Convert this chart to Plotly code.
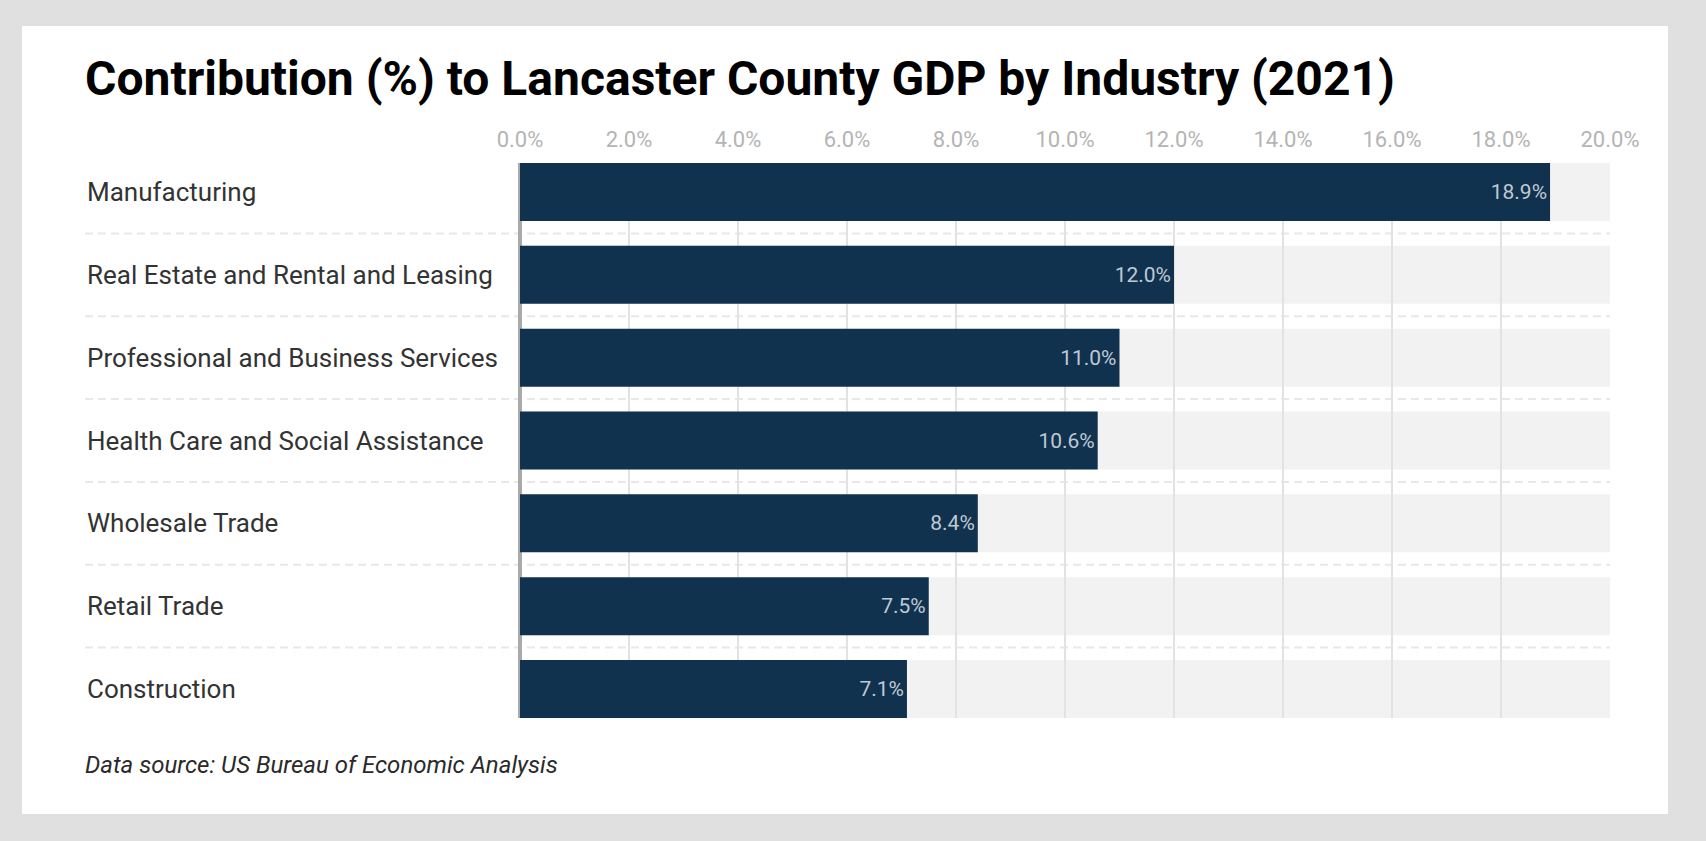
import plotly.graph_objects as go

categories = [
    "Manufacturing",
    "Real Estate and Rental and Leasing",
    "Professional and Business Services",
    "Health Care and Social Assistance",
    "Wholesale Trade",
    "Retail Trade",
    "Construction",
]
values = [18.9, 12.0, 11.0, 10.6, 8.4, 7.5, 7.1]
x_max = 20.0
tick_vals = [0, 2, 4, 6, 8, 10, 12, 14, 16, 18, 20]
tick_text = [f"{v:.1f}%" for v in tick_vals]

W, H = 1706, 841
BAR_W = 0.7
px = lambda v: v / W
py = lambda v: 1 - v / H

plot_l, plot_r = 520, 1610
plot_t, plot_b = 163, 718

fig = go.Figure()
fig.add_trace(go.Bar(
    x=values, y=list(range(len(categories))), orientation="h",
    width=BAR_W,
    marker=dict(color="#11324f", line=dict(width=0)),
    texttemplate="%{x:.1f}%", textposition="inside", insidetextanchor="end",
    textfont=dict(family="Roboto", size=21, color="#bfc9d3"),
    hoverinfo="skip",
))

shapes = [
    dict(type="rect", xref="paper", yref="paper", x0=px(22), x1=px(1668),
         y0=py(814), y1=py(26), fillcolor="white", line=dict(width=0), layer="below"),
]
n = len(categories)
for i in range(n):
    shapes.append(dict(type="rect", xref="x", yref="y", x0=0, x1=x_max,
                       y0=i - BAR_W / 2, y1=i + BAR_W / 2,
                       fillcolor="#f2f2f2", line=dict(width=0), layer="below"))
for i in range(n - 1):
    shapes.append(dict(type="line", xref="paper", yref="y", x0=px(85), x1=px(plot_r),
                       y0=i + 0.5, y1=i + 0.5,
                       line=dict(color="#e8e8e8", width=2, dash="8px,5px"), layer="below"))

annotations = []
for i, c in enumerate(categories):
    annotations.append(dict(text=c, xref="paper", yref="y", x=px(85), y=i,
                            xanchor="left", yanchor="middle", showarrow=False,
                            font=dict(family="Roboto", size=26, color="#333333")))
annotations.append(dict(text="<i>Data source: US Bureau of Economic Analysis</i>",
                        xref="paper", yref="paper", x=px(83), y=py(765),
                        xanchor="left", yanchor="middle", showarrow=False,
                        font=dict(family="Roboto", size=24, color="#2a2a2a")))

fig.update_layout(
    width=W, height=H, autosize=False,
    margin=dict(l=0, r=0, t=0, b=0, pad=0, autoexpand=False),
    paper_bgcolor="#e0e0e0",
    plot_bgcolor="rgba(0,0,0,0)",
    showlegend=False,
    title=dict(text="<b>Contribution (%) to Lancaster County GDP by Industry (2021)</b>",
               x=px(85), y=py(78), xanchor="left", yanchor="middle",
               xref="paper", yref="paper",
               font=dict(family="Roboto", size=48, color="#000000")),
    xaxis=dict(domain=[px(plot_l), px(plot_r)], range=[0, x_max], side="top",
               tickvals=tick_vals, ticktext=tick_text, ticks="",
               ticklabelstandoff=11, automargin=False,
               tickfont=dict(family="Roboto", size=22, color="#b4b4b4"),
               showgrid=True, gridcolor="#e2e2e2", gridwidth=2,
               zeroline=True, zerolinecolor="#aaaaaa", zerolinewidth=4,
               showline=False, fixedrange=True),
    yaxis=dict(domain=[py(plot_b), py(plot_t)], range=[n - 1 + 0.35, -0.35],
               showticklabels=False, showgrid=False, zeroline=False, automargin=False,
               showline=False, fixedrange=True),
    shapes=shapes,
    annotations=annotations,
)

fig.write_html("out.html", config=dict(displayModeBar=False))
